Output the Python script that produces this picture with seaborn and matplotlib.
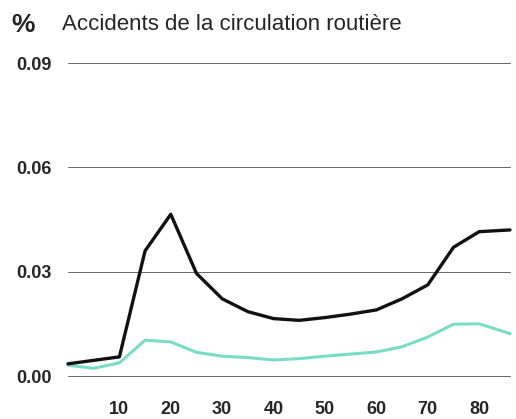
import matplotlib
matplotlib.use("Agg")
import matplotlib.pyplot as plt
import seaborn as sns
import pandas as pd

ages = [0, 10, 15, 20, 25, 30, 35, 40, 45, 50, 55, 60, 65, 70, 75, 80, 86]
total = [0.0035, 0.0055, 0.036, 0.0465, 0.0295, 0.0222, 0.0185, 0.0165, 0.016, 0.0168, 0.0178, 0.019, 0.0222, 0.0262, 0.037, 0.0415, 0.042]
teal_ages = [0, 5, 10, 15, 20, 25, 30, 35, 40, 45, 50, 55, 60, 65, 70, 75, 80, 86]
teal = [0.0031, 0.0022, 0.0038, 0.0103, 0.0098, 0.0068, 0.0057, 0.0053, 0.0046, 0.005, 0.0057, 0.0063, 0.0069, 0.0084, 0.0112, 0.0149, 0.015, 0.0122]
yticks = [0.00, 0.03, 0.06, 0.09]
ytick_labels = ["0.00", "0.03", "0.06", "0.09"]
xticks = [10, 20, 30, 40, 50, 60, 70, 80]
title = "Accidents de la circulation routière"

sns.set_style("white")
plt.rcParams['font.family'] = ['Liberation Sans', 'DejaVu Sans']

fig = plt.figure(figsize=(5.16, 4.19), dpi=100)
ax = fig.add_axes([68/516, 1-376/419, (510-68)/516, (376-63)/419])

df1 = pd.DataFrame({"age": ages, "val": total})
df2 = pd.DataFrame({"age": teal_ages, "val": teal})
sns.lineplot(data=df2, x="age", y="val", ax=ax, color="#7adcc4", lw=2.2, clip_on=False, zorder=3)
sns.lineplot(data=df1, x="age", y="val", ax=ax, color="#111111", lw=2.4, clip_on=False, zorder=4)

ax.set_xlim(0, 86)
ax.set_ylim(0, 0.09)
for y in yticks:
    ax.axhline(y, color="#666666", lw=0.7, zorder=1, clip_on=False)
ax.set_yticks(yticks)
ax.set_yticklabels(ytick_labels, fontsize=13, fontweight="bold")
ax.set_xticks(xticks)
ax.set_xticklabels([str(x) for x in xticks], fontsize=13, fontweight="bold")
ax.tick_params(axis="both", length=0)
ax.tick_params(axis="y", pad=12)
ax.tick_params(axis="x", pad=18)
ax.set_xlabel("")
ax.set_ylabel("")
for s in ax.spines.values():
    s.set_visible(False)

fig.text(11/516, 1-32/419, "%", fontsize=19, fontweight="bold", ha="left", va="baseline")
fig.text(62/516, 1-30/419, title, fontsize=16, ha="left", va="baseline")

fig.savefig("out.png", dpi=100)
